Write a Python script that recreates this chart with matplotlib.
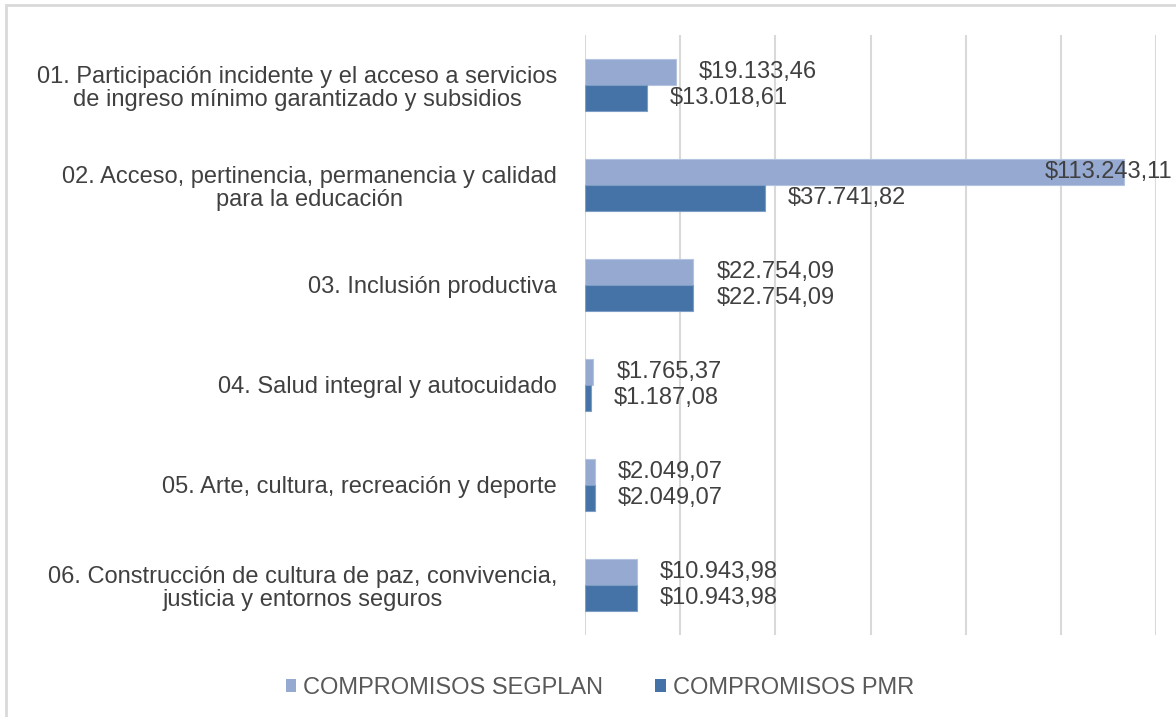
import matplotlib
matplotlib.use("Agg")
import matplotlib.pyplot as plt
from matplotlib.patches import Rectangle, Patch
import numpy as np

plt.rcParams['font.family'] = ['Liberation Sans', 'DejaVu Sans']

categories = [
    "01. Participación incidente y el acceso a servicios\nde ingreso mínimo garantizado y subsidios",
    "02. Acceso, pertinencia, permanencia y calidad\npara la educación",
    "03. Inclusión productiva",
    "04. Salud integral y autocuidado",
    "05. Arte, cultura, recreación y deporte",
    "06. Construcción de cultura de paz, convivencia,\njusticia y entornos seguros",
]
segplan = [19133.46, 113243.11, 22754.09, 1765.37, 2049.07, 10943.98]
pmr = [13018.61, 37741.82, 22754.09, 1187.08, 2049.07, 10943.98]
series_names = ["COMPROMISOS SEGPLAN", "COMPROMISOS PMR"]


def fmt(v):
    s = f"{v:,.2f}"
    s = s.replace(",", "X").replace(".", ",").replace("X", ".")
    return "$" + s


W, H = 1176, 717
FS = 17
fig = plt.figure(figsize=(W / 100, H / 100), dpi=100)
fig.patch.set_facecolor("white")

# chart border
fig.add_artist(Rectangle((6 / W, -0.05), 1.2, 1 - 5 / H + 0.05, transform=fig.transFigure,
                         fill=False, edgecolor="#D9D9D9", linewidth=2))

ax = fig.add_axes([585 / W, 1 - 635 / H, (1156 - 585) / W, 600 / H])
light = "#95A9D1"
dark = "#4573A7"
y = np.arange(len(categories))
h = 0.26
ax.barh(y - h / 2, segplan, height=h, color=light, edgecolor="#B4C3E0", linewidth=0.8, zorder=3)
ax.barh(y + h / 2, pmr, height=h, color=dark, edgecolor="#7E9DC4", linewidth=0.8, zorder=3)

ax.set_xlim(0, 120000)
ax.set_ylim(len(categories) - 0.5, -0.5)
ax.set_xticks(np.arange(0, 120001, 20000))
ax.xaxis.grid(True, color="#D9D9D9", linewidth=1.5, zorder=0)
ax.tick_params(axis="x", length=0, labelbottom=False)
ax.tick_params(axis="y", length=0, pad=20)
ax.set_yticks(y)
ax.set_yticklabels(categories, fontsize=FS, color="#404040", linespacing=1.1)
for lbl in ax.get_yticklabels():
    lbl.set_horizontalalignment("right")
    lbl.set_multialignment("center")
for s in ax.spines.values():
    s.set_visible(False)

px_per_unit = (1156 - 585) / 120000
offset = 23 / px_per_unit
xmax_label = (1045 - 585) / px_per_unit
for i in range(len(categories)):
    for val, yy in ((segplan[i], y[i] - h / 2), (pmr[i], y[i] + h / 2)):
        ax.text(min(val + offset, xmax_label), yy, fmt(val), va="center", ha="left",
                fontsize=FS, color="#404040", zorder=5, clip_on=False)

handles = [Patch(facecolor=light), Patch(facecolor=dark)]
fig.legend(handles, series_names, loc="center", bbox_to_anchor=(600 / W, 1 - 688 / H),
           ncol=2, frameon=False, fontsize=FS, handlelength=0.45, handleheight=0.45,
           handletextpad=0.3, columnspacing=2.2, labelcolor="#595959")

fig.savefig("out.png", dpi=100, facecolor="white")
